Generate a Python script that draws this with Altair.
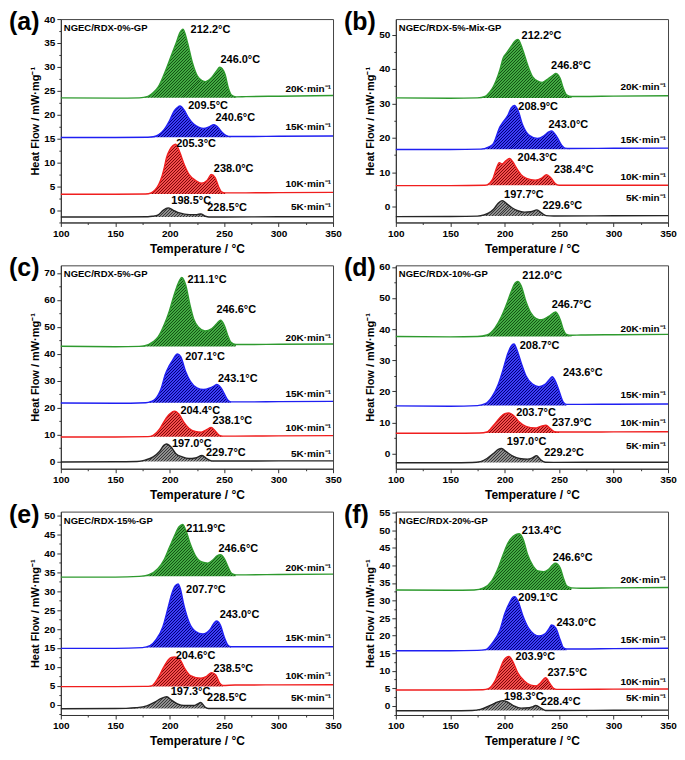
import math
import altair as alt
import pandas as pd

# ---------------- data (temperature °C, heat flow mW/mg) ----------------
RATES = ["20K·min⁻¹", "15K·min⁻¹", "10K·min⁻¹", "5K·min⁻¹"]

# panel (a) NGEC/RDX-0%-GP
A_20 = [(100, 23.5), (150, 23.45), (172, 23.5), (180, 23.8), (185, 24.6), (189.5, 25.8), (195.5, 28.8), (201.4, 32.3), (205.9, 35.0), (209.5, 37.2), (212.2, 37.9), (216.4, 35.0), (220.8, 30.9), (225.3, 28.1), (229.8, 27.1), (232.8, 26.9), (238.8, 27.8), (243.2, 29.2), (246.0, 29.9), (250.7, 28.5), (253.7, 25.7), (256.7, 24.1), (261.0, 23.7), (270, 23.75), (300, 23.85), (350, 24.0)]
A_15 = [(100, 15.2), (150, 15.2), (180, 15.25), (185, 15.35), (190, 15.8), (195, 16.9), (200, 18.8), (204, 20.7), (207, 21.45), (209.5, 21.8), (213, 21.0), (217, 19.4), (222, 18.0), (227, 17.3), (231, 17.1), (236, 17.4), (240.6, 17.9), (244, 17.4), (248, 16.3), (252, 15.6), (256, 15.4), (270, 15.4), (300, 15.45), (350, 15.5)]
A_10 = [(100, 3.3), (150, 3.3), (178, 3.35), (183, 3.6), (186.5, 4.2), (190, 5.4), (192.5, 6.8), (195, 8.9), (197, 10.9), (200, 12.6), (203, 13.5), (205.3, 13.8), (208.9, 12.3), (213.4, 9.5), (217.9, 7.4), (223.8, 6.2), (229, 5.6), (234.3, 6.2), (236.5, 7.0), (238, 7.45), (241.7, 6.8), (244.7, 5.0), (247.7, 3.8), (251, 3.6), (270, 3.6), (300, 3.65), (350, 3.7)]
A_5 = [(100, -1.45), (150, -1.45), (180, -1.4), (184, -1.3), (189.5, -1.0), (194, -0.05), (198.5, 0.45), (203, 0.0), (209, -0.6), (218, -0.95), (225, -0.95), (228.5, -0.8), (232.8, -1.3), (236, -1.45), (250, -1.45), (300, -1.4), (350, -1.4)]
A_FILL = [(172, 261), (180, 256), (178, 251), (180, 236)]
A_PEAKS = [("212.2°C", 219.2, 37.7), ("246.0°C", 246.6, 31.5), ("209.5°C", 217, 21.85), ("240.6°C", 242, 19.3),
           ("205.3°C", 206, 13.8), ("238.0°C", 240.5, 8.7), ("198.5°C", 201.5, 1.9), ("228.5°C", 234.5, 0.4)]
A_RATE_V = [25.4, 17.4, 5.4, 0.55]

# panel (b) NGEC/RDX-5%-Mix-GP
B_20 = [(100, 31.6), (150, 31.5), (175, 31.6), (182, 32.0), (186, 33.2), (189.6, 34.9), (195.6, 39.8), (198.6, 43.2), (201.6, 44.6), (206, 46.6), (209, 48.0), (212.2, 48.6), (216.5, 45.6), (221, 41.2), (225.5, 37.8), (231.4, 36.3), (234.4, 36.1), (240.4, 37.3), (244.9, 38.3), (246.8, 38.7), (250.9, 37.3), (253.8, 34.4), (256.8, 32.5), (261.3, 32.0), (270, 32.0), (300, 32.1), (350, 32.2)]
B_15 = [(100, 16.6), (150, 16.6), (178, 16.7), (185, 17.3), (189.6, 18.3), (195.6, 23.2), (198.6, 24.6), (203, 26.6), (206, 28.7), (208.9, 29.4), (212, 28.1), (216.5, 23.7), (222.5, 20.7), (230, 19.8), (236, 20.6), (240.4, 21.7), (243, 22.0), (247.9, 20.3), (252.4, 17.8), (255.3, 17.0), (260, 16.9), (300, 16.95), (350, 17.0)]
B_10 = [(100, 6.1), (150, 6.1), (182, 6.2), (186, 6.8), (189, 8.0), (192, 10.8), (195, 12.8), (197.5, 12.4), (201, 13.3), (204.3, 14.0), (207.5, 13.0), (210, 11.6), (215, 9.3), (220, 8.2), (228, 7.7), (234, 8.3), (238.4, 9.3), (242.5, 8.3), (246.4, 6.7), (250, 6.2), (270, 6.2), (350, 6.2)]
B_5 = [(100, -2.9), (150, -2.85), (175, -2.75), (181, -2.4), (185, -1.9), (190, -0.7), (194, 1.0), (197.7, 1.75), (202, 0.8), (207, -0.4), (212, -1.2), (218, -1.6), (224, -1.5), (229.6, -0.95), (234, -1.9), (238, -2.6), (245, -2.7), (300, -2.65), (350, -2.6)]
B_FILL = [(175, 261.3), (178, 260), (182, 250), (175, 238)]
B_PEAKS = [("212.2°C", 215.5, 49.7), ("246.8°C", 242.6, 41.0), ("208.9°C", 212.5, 29.0), ("243.0°C", 240.2, 23.8),
           ("204.3°C", 211.8, 14.2), ("238.4°C", 245.2, 10.5), ("197.7°C", 199.4, 3.4), ("229.6°C", 234.7, 0.3)]
B_RATE_V = [34.9, 19.5, 8.6, 2.5]

# panel (c) NGEC/RDX-5%-GP
C_20 = [(100, 42.75), (150, 42.6), (172, 42.7), (180.4, 43.4), (185, 44.5), (189.3, 46.2), (195.2, 51.0), (199.7, 55.9), (204.2, 62.0), (208.6, 66.9), (211.1, 68.3), (214.6, 65.6), (218.5, 58.3), (222, 52.9), (226.5, 49.8), (232.4, 48.4), (238.4, 49.2), (242.9, 51.0), (246.6, 52.4), (250.3, 50.4), (253.3, 46.8), (256.3, 44.2), (260.7, 43.4), (270, 43.4), (300, 43.5), (350, 43.6)]
C_15 = [(100, 21.7), (150, 21.6), (178, 21.8), (183, 22.3), (186.3, 23.0), (192.3, 27.3), (195.8, 32.2), (199.1, 35.2), (202.7, 37.6), (205.7, 39.5), (207.1, 39.9), (210.1, 38.9), (214.6, 33.4), (219, 29.7), (225, 27.3), (231, 26.7), (236.9, 27.3), (241.4, 28.2), (243.1, 28.6), (247.3, 27.2), (250.3, 25.0), (253.3, 22.8), (256.3, 22.1), (270, 22.1), (300, 22.2), (350, 22.3)]
C_10 = [(100, 9.1), (150, 9.1), (180, 9.2), (184.8, 9.7), (190.8, 12.1), (195.2, 15.1), (199.7, 17.5), (204.4, 18.7), (208.6, 17.5), (213.1, 14.5), (217.6, 12.3), (223.5, 11.1), (229, 10.9), (233.9, 11.8), (238.1, 12.6), (241.4, 11.5), (245.2, 9.8), (248.8, 9.4), (260, 9.4), (300, 9.5), (350, 9.6)]
C_5 = [(100, -0.2), (150, -0.1), (170, 0.0), (177.4, 0.5), (184.8, 1.7), (190.8, 3.8), (194.6, 6.0), (197, 6.5), (201.2, 5.4), (205.7, 2.9), (211.6, 1.7), (217.6, 1.1), (223.5, 1.3), (229.7, 2.2), (233.9, 1.1), (236.9, 0.4), (240, 0.15), (260, 0.15), (300, 0.2), (350, 0.2)]
C_FILL = [(172, 260.7), (178, 256.3), (180, 248.8), (170, 240)]
C_PEAKS = [("211.1°C", 216.3, 67.2), ("246.6°C", 242.9, 56.4), ("207.1°C", 214.2, 38.8), ("243.1°C", 244.3, 30.7),
           ("204.4°C", 209.8, 18.7), ("238.1°C", 239.3, 14.9), ("197.0°C", 202, 6.6), ("229.7°C", 233.3, 3.1)]
C_RATE_V = [45.7, 25.0, 12.5, 2.8]

# panel (d) NGEC/RDX-10%-GP
D_20 = [(100, 37.6), (150, 37.5), (175, 37.6), (183.7, 38.1), (191.1, 40.4), (197.1, 44.1), (201.6, 47.9), (206, 52.1), (209.6, 54.8), (212, 55.3), (215, 54.0), (219.5, 48.9), (224, 45.2), (229, 43.4), (234, 43.0), (240.4, 44.1), (246.7, 45.5), (250.9, 43.1), (253.8, 39.9), (256.8, 38.3), (261.3, 38.0), (270, 38.1), (300, 38.2), (350, 38.3)]
D_15 = [(100, 15.3), (150, 15.2), (175, 15.4), (182.2, 16.0), (188.1, 18.1), (194.1, 22.3), (198.6, 27.1), (203.1, 32.4), (206.5, 34.8), (208.7, 35.2), (210.5, 34.0), (215, 29.3), (219.5, 25.0), (225.5, 22.3), (231.4, 21.5), (237.4, 22.3), (241.3, 23.9), (243.6, 24.7), (247, 22.9), (250.9, 19.1), (253.8, 16.5), (256.8, 15.8), (270, 15.8), (300, 15.85), (350, 15.9)]
D_10 = [(100, 6.5), (150, 6.5), (177, 6.6), (183.7, 6.9), (189.6, 9.0), (195.6, 11.5), (200.1, 12.8), (203.7, 13.0), (209, 11.9), (213.5, 10.1), (219.5, 8.7), (228, 8.2), (233, 8.7), (237.9, 9.1), (241.9, 8.0), (245.8, 7.0), (250, 6.9), (270, 6.9), (300, 6.95), (350, 7.0)]
D_5 = [(100, -3.0), (150, -3.0), (170, -2.9), (177.7, -2.6), (183.7, -1.6), (189.6, 0.0), (194.1, 1.3), (197, 1.6), (201.6, 0.5), (207.5, -0.85), (213.5, -1.6), (221, -1.8), (225.5, -1.4), (229.2, -0.7), (233, -2.0), (237.4, -2.8), (245, -2.85), (300, -2.8), (350, -2.8)]
D_FILL = [(175, 261.3), (175, 256.8), (177, 250), (170, 237.4)]
D_PEAKS = [("212.0°C", 216.2, 57.1), ("246.7°C", 243.1, 47.8), ("208.7°C", 213.8, 34.4), ("243.6°C", 253.5, 25.9),
           ("203.7°C", 210.5, 13.1), ("237.9°C", 243.4, 9.9), ("197.0°C", 201.9, 3.7), ("229.2°C", 236.3, 0.3)]
D_RATE_V = [40.1, 18.7, 9.8, 2.3]

# panel (e) NGEC/RDX-15%-GP
E_20 = [(100, 33.7), (150, 33.7), (172, 33.9), (180.4, 34.3), (189.3, 36.0), (195.2, 38.5), (199.7, 41.5), (204.2, 44.5), (208.6, 47.0), (211.9, 47.6), (214.6, 46.2), (219.1, 42.3), (223.5, 39.4), (229.5, 37.7), (235, 37.4), (239.9, 38.3), (243.5, 39.3), (246.6, 39.6), (250.3, 38.5), (254.2, 36.0), (257.1, 34.6), (260.7, 34.3), (270, 34.3), (300, 34.4), (350, 34.5)]
E_15 = [(100, 14.9), (150, 14.9), (175, 15.1), (181.9, 15.6), (187.8, 17.3), (193.8, 20.7), (198.2, 25.3), (201.8, 29.2), (204.8, 31.3), (207.7, 31.9), (209.5, 30.9), (213.1, 26.2), (217.6, 21.9), (223.5, 19.4), (230.4, 18.7), (236.9, 19.8), (240.5, 21.5), (243, 22.1), (246.4, 21.1), (250.3, 17.7), (253.3, 15.8), (256.3, 15.3), (270, 15.3), (300, 15.3), (350, 15.3)]
E_10 = [(100, 4.8), (150, 4.8), (177, 4.85), (183.3, 5.0), (189.3, 7.1), (194.6, 10.0), (198.8, 11.9), (201.5, 12.5), (204.6, 12.6), (209.5, 11.9), (213.7, 9.6), (219.1, 7.7), (228.6, 7.0), (233.9, 7.5), (238.5, 8.5), (242.3, 7.9), (245.8, 5.8), (248.8, 5.1), (260, 5.2), (300, 5.25), (350, 5.3)]
E_5 = [(100, -1.05), (150, -1.0), (160, -0.95), (168.5, -0.8), (178.9, -0.3), (186.3, 0.7), (192.3, 1.7), (197.3, 2.1), (201.2, 1.3), (207.1, 0.25), (213.1, -0.2), (222, -0.2), (225.6, 0.2), (228.5, 0.6), (232.4, -0.6), (235.4, -1.0), (240, -1.0), (300, -1.0), (350, -1.0)]
E_FILL = [(172, 260.7), (175, 256.3), (177, 248.8), (160, 240)]
E_PEAKS = [("211.9°C", 215.3, 46.5), ("246.6°C", 244.8, 41.0), ("207.7°C", 215, 30.4), ("243.0°C", 245.9, 23.7),
           ("204.6°C", 205.5, 12.8), ("238.5°C", 240.2, 9.5), ("197.3°C", 200.9, 3.3), ("228.5°C", 234.3, 1.7)]
E_RATE_V = [36.2, 17.7, 7.5, 1.7]

# panel (f) NGEC/RDX-20%-GP
F_20 = [(100, 33.0), (150, 32.9), (172, 33.0), (180.7, 33.6), (188.1, 35.6), (194.1, 39.3), (198.6, 43.1), (203.1, 46.4), (207.5, 48.2), (210.5, 48.8), (213.4, 49.0), (217.1, 47.3), (221, 43.1), (226.1, 39.8), (230.8, 38.4), (235.9, 38.2), (240.4, 38.9), (244, 40.1), (246.6, 40.6), (250.9, 39.3), (253.8, 36.5), (256.8, 34.2), (261.3, 33.6), (270, 33.5), (300, 33.6), (350, 33.7)]
F_15 = [(100, 15.7), (150, 15.7), (175, 15.8), (182.2, 16.0), (189.6, 18.3), (195.6, 21.6), (200.1, 26.3), (204.6, 29.5), (207.5, 30.9), (209.1, 31.1), (212, 30.0), (216.5, 25.8), (221.9, 22.1), (227, 20.4), (231.4, 19.9), (237.4, 20.6), (241, 22.1), (243, 23.0), (247, 22.1), (250.9, 18.8), (253.8, 16.6), (256.8, 16.2), (270, 16.2), (300, 16.3), (350, 16.4)]
F_10 = [(100, 4.5), (150, 4.5), (180, 4.6), (185.1, 4.9), (191.1, 7.1), (195.6, 10.4), (199.2, 13.0), (203.9, 14.1), (208.1, 12.2), (212, 9.4), (218, 7.1), (224, 5.9), (229, 5.7), (233, 6.6), (237.5, 8.0), (241.9, 6.2), (244.9, 5.0), (247.9, 4.7), (260, 4.7), (300, 4.75), (350, 4.8)]
F_5 = [(100, -1.4), (150, -1.4), (170, -1.3), (177.7, -1.0), (185.1, -0.1), (191.1, 0.8), (198.3, 1.5), (203.1, 1.0), (209, -0.1), (215, -0.65), (222.5, -0.55), (226, -0.2), (228.4, 0.1), (234.4, -0.85), (237.4, -1.3), (245, -1.3), (300, -1.25), (350, -1.2)]
F_FILL = [(172, 261.3), (175, 256.8), (180, 247.9), (170, 237.4)]
F_PEAKS = [("213.4°C", 215.7, 49.8), ("246.6°C", 244.2, 42.1), ("209.1°C", 212.5, 30.8), ("243.0°C", 247.5, 23.6),
           ("203.9°C", 209.8, 13.85), ("237.5°C", 239.3, 9.4), ("198.3°C", 199.3, 2.55), ("228.4°C", 233.2, 1.1)]
F_RATE_V = [35.8, 18.8, 6.8, 2.1]

PANEL_TAGS = ["(a)", "(b)", "(c)", "(d)", "(e)", "(f)"]
SAMPLES = ["NGEC/RDX-0%-GP", "NGEC/RDX-5%-Mix-GP", "NGEC/RDX-5%-GP",
           "NGEC/RDX-10%-GP", "NGEC/RDX-15%-GP", "NGEC/RDX-20%-GP"]
Y_DOMAINS = [[-2.6, 40], [-4.6, 54.5], [-2.7, 72.8], [-4.9, 60.5], [-2.7, 51], [-2.6, 55.3]]
Y_MAJOR = [5, 10, 10, 10, 5, 5]

# ---------------- style ----------------
W, H = 273, 204
FONT = "Liberation Sans"
LINE_C = ["#2e9a2e", "#1f1ff2", "#f01e1e", "#262626"]
FILL_BG = ["#42aa42", "#3c3cf5", "#f24c4c", "#8e8e8e"]
FILL_FG = ["#145214", "#00007a", "#800808", "#383838"]
AX = "#333333"


def hatch(bg, fg, wpx, hpx, hs=3.0, hd=1.0):
    """Diagonal '/' stripes: hs = horizontal stripe spacing in px, hd = dark width in px."""
    wpx = max(wpx, 1.0)
    hpx = max(hpx, 1.0)
    s = wpx + hpx
    c = s / (wpx * wpx + hpx * hpx)
    step = hs / s
    dark = hd / s
    stops = []
    t = 0.0
    while t < 1.0:
        a = round(t, 6)
        b = round(min(t + step - dark, 1.0), 6)
        e = round(min(t + step, 1.0), 6)
        stops += [alt.GradientStop(color=bg, offset=a), alt.GradientStop(color=bg, offset=b),
                  alt.GradientStop(color=fg, offset=b), alt.GradientStop(color=fg, offset=e)]
        t += step
    return alt.LinearGradient(gradient="linear", stops=stops, x1=0, y1=0,
                              x2=round(wpx * c, 5), y2=round(hpx * c, 5))


def panel(tag, name, ydom, major, curves, fills, peaks, rate_v):
    xs = alt.Scale(domain=[100, 350], nice=False, zero=False)
    ys = alt.Scale(domain=ydom, nice=False, zero=False)
    minor = major / 2
    yvals = []
    k = math.ceil(ydom[0] / minor - 1e-9)
    while k * minor <= ydom[1] + 1e-9:
        yvals.append(round(k * minor, 4))
        k += 1
    x_axis = alt.Axis(values=list(range(100, 351, 25)),
                      labelExpr="datum.value % 50 === 0 ? datum.label : ''",
                      title="Temperature / °C", titleFontSize=12, titleFontWeight="bold",
                      titleFont=FONT, titleColor="black", titlePadding=5,
                      labelFont=FONT, labelFontSize=10, labelFontWeight="bold", labelColor="black",
                      labelPadding=2, labelFlush=False, labelOverlap=False, grid=False,
                      domainColor=AX, tickColor=AX,
                      tickSize={"condition": {"test": "datum.value % 50 === 0", "value": 4}, "value": 2})
    y_axis = alt.Axis(values=yvals,
                      labelExpr=f"datum.value % {major} === 0 ? datum.label : ''",
                      title="Heat Flow / mW·mg⁻¹", titleFontSize=11, titleFontWeight="bold",
                      titleFont=FONT, titleColor="black", titlePadding=3,
                      labelFont=FONT, labelFontSize=10, labelFontWeight="bold", labelColor="black",
                      labelPadding=2, labelOverlap=False, labelFlush=False, grid=False,
                      domainColor=AX, tickColor=AX,
                      tickSize={"condition": {"test": f"datum.value % {major} === 0", "value": 4}, "value": 2})
    X = alt.X("T:Q", scale=xs, axis=x_axis)
    Y = alt.Y("v:Q", scale=ys, axis=y_axis)

    layers = []
    for i, (pts, (lo, hi)) in enumerate(zip(curves, fills)):
        seg = [(t, v) for t, v in pts if lo - 1e-6 <= t <= hi + 1e-6]
        base = min(seg[0][1], seg[-1][1])
        top = max(v for _, v in seg)
        wpx = (hi - lo) * W / 250.0
        hpx = (top - base) * H / (ydom[1] - ydom[0])
        df = pd.DataFrame({"T": [p[0] for p in seg], "v": [p[1] for p in seg], "base": base})
        layers.append(
            alt.Chart(df).mark_area(interpolate="monotone",
                                    fill=hatch(FILL_BG[i], FILL_FG[i], wpx, hpx))
            .encode(x=X, y=Y, y2="base:Q")
        )

    rows = []
    for i, pts in enumerate(curves):
        for t, v in pts:
            rows.append({"T": t, "v": v, "rate": RATES[i]})
    layers.append(
        alt.Chart(pd.DataFrame(rows)).mark_line(interpolate="monotone", strokeWidth=1.4)
        .encode(x=X, y=Y, detail="rate:N",
                color=alt.Color("rate:N", scale=alt.Scale(domain=RATES, range=LINE_C), legend=None))
    )

    pk = pd.DataFrame(peaks, columns=["label", "T", "v"])
    layers.append(
        alt.Chart(pk).mark_text(align="left", baseline="middle", font=FONT, fontSize=11,
                                fontWeight="bold", color="black")
        .encode(x=X, y=Y, text="label:N")
    )
    rt = pd.DataFrame({"label": RATES, "v": rate_v})
    layers.append(
        alt.Chart(rt).mark_text(align="right", baseline="middle", font=FONT, fontSize=10,
                                fontWeight="bold", color="black")
        .encode(x=alt.value(W - 2), y=Y, text="label:N")
    )
    layers.append(
        alt.Chart(pd.DataFrame({"s": [name]})).mark_text(align="left", baseline="middle", font=FONT,
                                                         fontSize=9.5, fontWeight="bold", color="black")
        .encode(x=alt.value(3), y=alt.value(9), text="s:N")
    )
    layers.append(
        alt.Chart(pd.DataFrame({"s": [tag]})).mark_text(align="left", baseline="middle", font=FONT,
                                                        fontSize=25, fontWeight="bold", color="black")
        .encode(x=alt.value(-52), y=alt.value(3), text="s:N")
    )
    return alt.layer(*layers).properties(width=W, height=H)


ALL = [
    ([A_20, A_15, A_10, A_5], A_FILL, A_PEAKS, A_RATE_V),
    ([B_20, B_15, B_10, B_5], B_FILL, B_PEAKS, B_RATE_V),
    ([C_20, C_15, C_10, C_5], C_FILL, C_PEAKS, C_RATE_V),
    ([D_20, D_15, D_10, D_5], D_FILL, D_PEAKS, D_RATE_V),
    ([E_20, E_15, E_10, E_5], E_FILL, E_PEAKS, E_RATE_V),
    ([F_20, F_15, F_10, F_5], F_FILL, F_PEAKS, F_RATE_V),
]

panels = [panel(PANEL_TAGS[i], SAMPLES[i], Y_DOMAINS[i], Y_MAJOR[i], *ALL[i]) for i in range(6)]

chart = (
    alt.concat(*panels, columns=2, spacing={"row": 43, "column": 63}, bounds="flush", padding=0)
    .configure(font=FONT, background="white")
    .configure_view(stroke="#444444", strokeWidth=1)
)

chart.save("out.html", embed_options={"renderer": "svg", "actions": False})
